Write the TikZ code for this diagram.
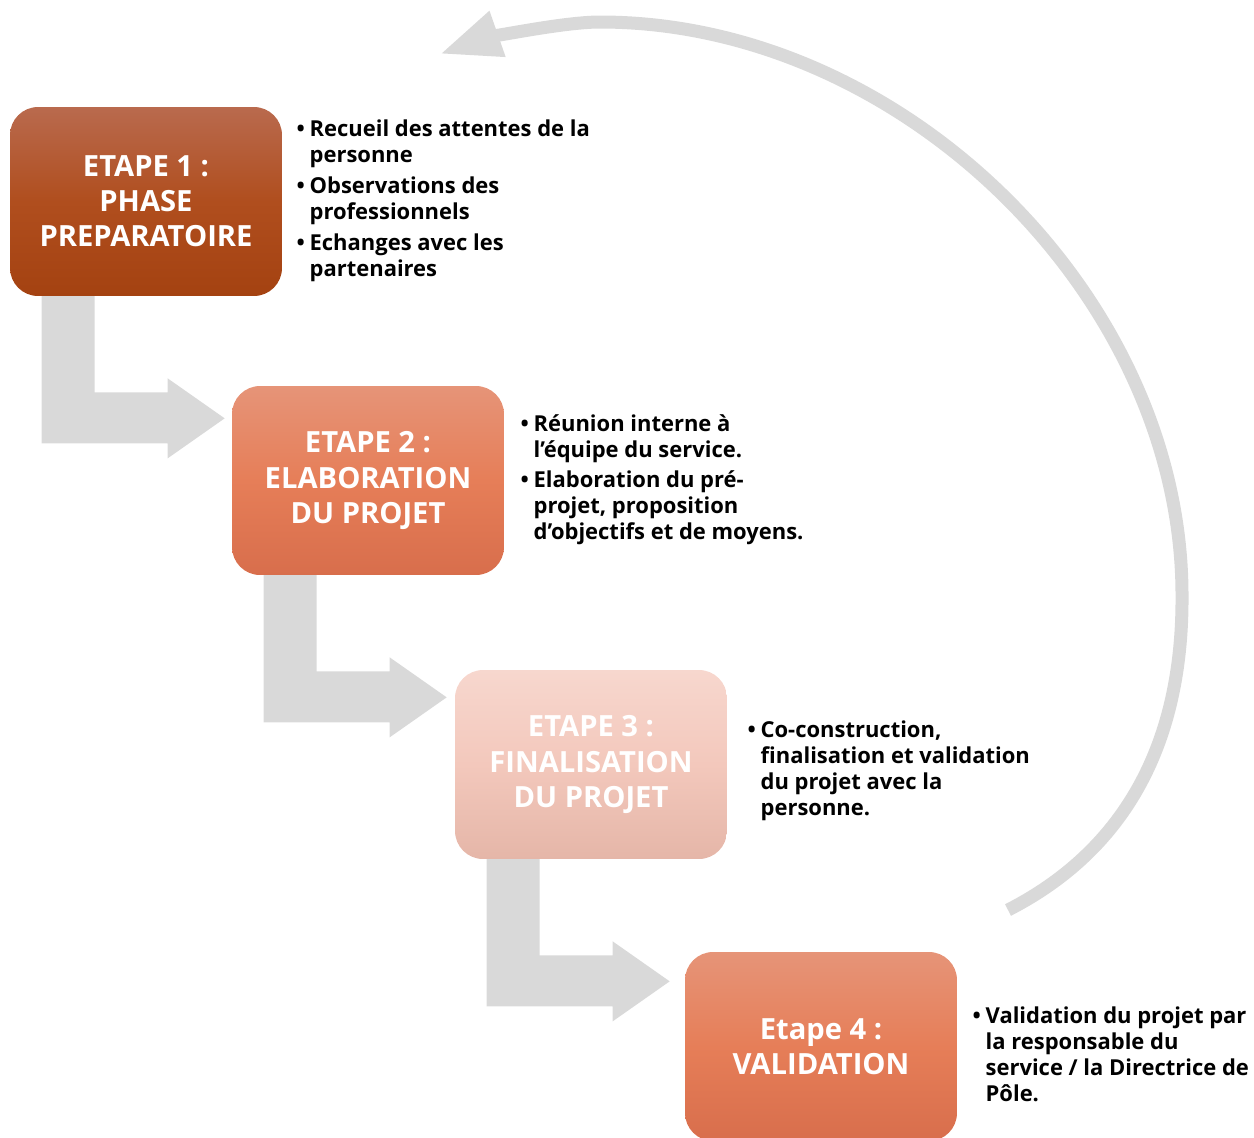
\documentclass[tikz,border=0pt]{standalone}
\usepackage{fontspec}
\setmainfont{Open Sans}
\usepackage{xcolor}
\definecolor{fluxGray}{RGB}{217, 217, 217}
\definecolor{brunTop}{RGB}{185, 106, 78}
\definecolor{brunMid}{RGB}{176, 78, 30}
\definecolor{brunBot}{RGB}{164, 66, 17}
\definecolor{saumonTop}{RGB}{230, 148, 120}
\definecolor{saumonMid}{RGB}{230, 126, 88}
\definecolor{saumonBot}{RGB}{216, 110, 76}
\definecolor{roseTop}{RGB}{247, 215, 206}
\definecolor{roseMid}{RGB}{243, 200, 188}
\definecolor{roseBot}{RGB}{229, 182, 168}
\usetikzlibrary{arrows.meta, positioning, backgrounds}
\newcommand{\puce}{\textbullet}

\begin{document}
\begin{tikzpicture}[x=0.02cm, y=-0.02cm,
  stepbox/.style={rectangle, rounded corners=0.56cm,
                  minimum width=5.44cm, minimum height=3.78cm, inner sep=0pt,
                  align=center, text=white, font=\fontsize{16.6}{20}\selectfont\bfseries},
  brun/.style={top color=brunTop, bottom color=brunBot, middle color=brunMid},
  saumon/.style={top color=saumonTop, bottom color=saumonBot, middle color=saumonMid},
  rose/.style={top color=roseTop, bottom color=roseBot, middle color=roseMid},
  puces/.style={inner sep=0pt, font=\fontsize{12.5}{14.8}\selectfont\bfseries},
  retour/.style={draw=fluxGray, line width=0.26cm,
                 -{Triangle[length=1.22cm, width=0.9cm]}},
]
  \useasboundingbox (0,0) rectangle (1254,1137);

  % Etape 1 and its bullets
  \node[stepbox, brun] (e1) at (146,201.5) {ETAPE 1 :\\PHASE\\PREPARATOIRE};
  \node[puces, right=0.28cm of e1] (t1) {\begin{tabular}{@{}p{0.26cm}@{}l@{}}
    \puce & Recueil des attentes de la\\
          & personne\\[3pt]
    \puce & Observations des\\
          & professionnels\\[3pt]
    \puce & Echanges avec les\\
          & partenaires
  \end{tabular}};

  % Etape 2
  \node[stepbox, saumon] (e2) at (368,480.5) {ETAPE 2 :\\ELABORATION\\DU PROJET};
  \node[puces, right=0.32cm of e2] (t2) {\begin{tabular}{@{}p{0.26cm}@{}l@{}}
    \puce & Réunion interne à\\
          & l’équipe du service.\\[2pt]
    \puce & Elaboration du pré-\\
          & projet, proposition\\
          & d’objectifs et de moyens.
  \end{tabular}};

  % Etape 3
  \node[stepbox, rose] (e3) at (591,764.5) {ETAPE 3 :\\FINALISATION\\DU PROJET};
  \node[puces, right=0.40cm of e3, yshift=-0.13cm] (t3) {\begin{tabular}{@{}p{0.26cm}@{}l@{}}
    \puce & Co-construction,\\
          & finalisation et validation\\
          & du projet avec la\\
          & personne.
  \end{tabular}};

  % Etape 4
  \node[stepbox, saumon] (e4) at (821,1046.5) {Etape 4 :\\VALIDATION};
  \node[puces, right=0.30cm of e4, yshift=-0.21cm] (t4) {\begin{tabular}{@{}p{0.26cm}@{}l@{}}
    \puce & Validation du projet par\\
          & la responsable du\\
          & service / la Directrice de\\
          & Pôle.
  \end{tabular}};

  % bent arrows between the steps
  \begin{scope}[on background layer]
    \foreach \src in {e1,e2,e3}
      \fill[fluxGray, shift={(\src.south west)}]
        (32,-5) -- (85,-5) -- (85,96) -- (158,96) -- (158,82) -- (215,122)
        -- (158,162) -- (158,147) -- (32,147) -- cycle;
  \end{scope}

  % big return arc from etape 4 back to etape 1
  \coordinate (retourDebut) at (1008,910);
  \coordinate (retourDroite) at (1182,595);
  \coordinate (retourHaut) at (600,22);
  \coordinate (retourFin) at (440,54);
  \draw[retour] (retourDebut) .. controls (1135,845) and (1183,730) .. (retourDroite)
    .. controls (1182,297) and (903,22) .. (retourHaut)
    .. controls (560,22) and (480,40) .. (retourFin);
\end{tikzpicture}
\end{document}
